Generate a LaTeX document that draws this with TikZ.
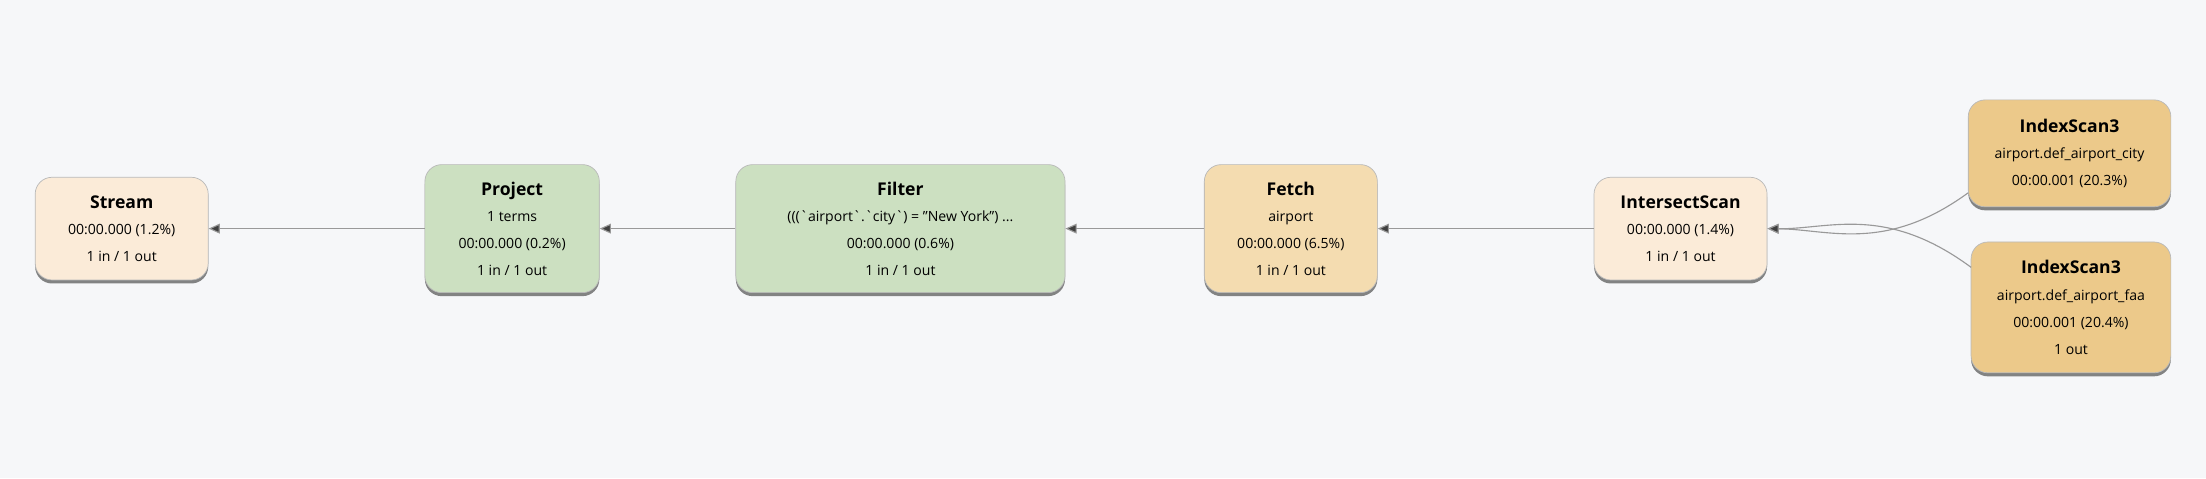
\documentclass[tikz,border=0pt]{standalone}
\usepackage{fontspec}
\setmainfont{Open Sans}
\usetikzlibrary{shadows,arrows.meta}
\definecolor{bg}{HTML}{F6F7F9}
\definecolor{cream}{HTML}{FBEBD8}
\definecolor{green}{HTML}{CCE0C1}
\definecolor{tan}{HTML}{F4DCB0}
\definecolor{gold}{HTML}{ECC98A}
\begin{document}
\begin{tikzpicture}[x=1pt,y=-1pt,
  op/.style={draw=gray!55,line width=0.5pt,rounded corners=12pt,align=center,
    inner sep=0pt,font=\fontsize{10}{19}\selectfont,
    drop shadow={shadow xshift=0pt,shadow yshift=-2.5pt,fill=black!60,opacity=0.8}},
  ttl/.style={font=\fontsize{12.5}{19}\selectfont\bfseries},
  edge/.style={draw=gray!80,line width=0.8pt,-{Triangle[length=8pt,width=7pt,fill=black!75]}}]
\fill[bg] (0,0) rectangle (1568,340);
\node[op,fill=cream,minimum width=123pt,minimum height=73pt] (stream) at (86.5,162.5)
  {{\fontsize{12.5}{19}\selectfont\bfseries Stream}\\00:00.000 (1.2\%)\\1 in / 1 out};
\node[op,fill=green,minimum width=124pt,minimum height=91pt] (project) at (364,162.5)
  {{\fontsize{12.5}{19}\selectfont\bfseries Project}\\1 terms\\00:00.000 (0.2\%)\\1 in / 1 out};
\node[op,fill=green,minimum width=234pt,minimum height=91pt] (filter) at (640,162.5)
  {{\fontsize{12.5}{19}\selectfont\bfseries Filter}\\(((\textasciigrave airport\textasciigrave .\textasciigrave city\textasciigrave ) = "New York") ...\\00:00.000 (0.6\%)\\1 in / 1 out};
\node[op,fill=tan,minimum width=123pt,minimum height=91pt] (fetch) at (917.5,162.5)
  {{\fontsize{12.5}{19}\selectfont\bfseries Fetch}\\airport\\00:00.000 (6.5\%)\\1 in / 1 out};
\node[op,fill=cream,minimum width=123pt,minimum height=73pt] (inter) at (1194.5,162.5)
  {{\fontsize{12.5}{19}\selectfont\bfseries IntersectScan}\\00:00.000 (1.4\%)\\1 in / 1 out};
\node[op,fill=gold,minimum width=144pt,minimum height=76pt] (idx1) at (1471,109)
  {{\fontsize{12.5}{19}\selectfont\bfseries IndexScan3}\\airport.def\_airport\_city\\00:00.001 (20.3\%)};
\node[op,fill=gold,minimum width=142pt,minimum height=93pt] (idx2) at (1472,218.5)
  {{\fontsize{12.5}{19}\selectfont\bfseries IndexScan3}\\airport.def\_airport\_faa\\00:00.001 (20.4\%)\\1 out};
\draw[edge] (project.west) -- (stream.east);
\draw[edge] (filter.west) -- (project.east);
\draw[edge] (fetch.west) -- (filter.east);
\draw[edge] (inter.west) -- (fetch.east);
\coordinate (c1) at (1399,137);
\coordinate (c2) at (1401,190);
\draw[edge] (c1) .. controls (1340,180) and (1300,163) .. (inter.east);
\draw[edge] (c2) .. controls (1340,145) and (1300,163) .. (inter.east);
\end{tikzpicture}
\end{document}
